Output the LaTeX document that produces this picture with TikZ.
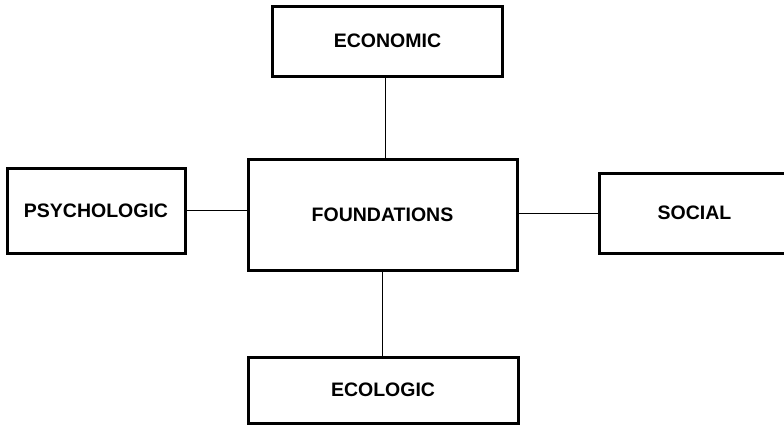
\documentclass[tikz,border=0pt]{standalone}
\usepackage{fontspec}
\setmainfont{Liberation Sans}
\usetikzlibrary{calc}
\begin{document}
\begin{tikzpicture}[x=1pt,y=-1pt,
  box/.style={draw=black,line width=3pt,rectangle,inner sep=0pt,
    font=\fontsize{19.5}{23}\selectfont\bfseries},
  link/.style={draw=black,line width=1pt}]
\clip (0,0) rectangle (784,424);
\fill[white] (0,0) rectangle (784,424);
\node[box,minimum width=229.5pt,minimum height=70pt] (econ) at (387.5,41) {ECONOMIC};
\node[box,minimum width=269pt,minimum height=111pt] (found) at (382.5,214.5) {FOUNDATIONS};
\node[box,minimum width=178pt,minimum height=85pt] (psych) at (96,210.5) {PSYCHOLOGIC};
\node[box,minimum width=191pt,minimum height=80pt] (social) at (694.5,213) {SOCIAL};
\node[box,minimum width=270pt,minimum height=66pt] (ecol) at (383,390) {ECOLOGIC};
\coordinate (ftop) at ($(found.north)+(2.5,0)$);
\draw[link] (ftop) -- (ftop |- econ.south);
\draw[link] (psych.east) -- (psych.east -| found.west);
\draw[link] (social.west) -- (social.west -| found.east);
\draw[link] (found.south) -- (found.south |- ecol.north);
\end{tikzpicture}
\end{document}
